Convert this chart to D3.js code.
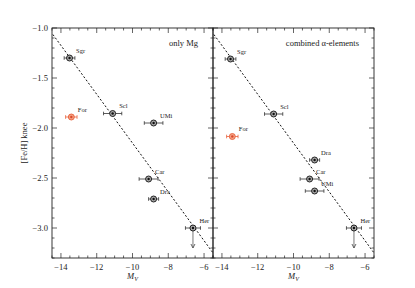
<!DOCTYPE html>
<html>
<head>
<meta charset="utf-8">
<script src="https://cdn.jsdelivr.net/npm/d3@7"></script>
<style>
  body { margin: 0; background: #fff; }
  text { font-family: "Liberation Serif", "DejaVu Serif", serif; fill: #222; }
</style>
</head>
<body>
<svg id="chart" width="415" height="288"></svg>
<script>
// galaxies and their values
var names = ["Sgr", "For", "Scl", "UMi", "Car", "Dra", "Her"];
var mv = [-13.52, -13.42, -11.11, -8.82, -9.1, -8.82, -6.62];
var mvErr = [0.3, 0.32, 0.51, 0.52, 0.53, 0.28, 0.42];
var kneeMg = [-1.30, -1.89, -1.855, -1.95, -2.51, -2.71, -3.0];
var kneeAlpha = [-1.31, -2.085, -1.86, -2.63, -2.51, -2.32, -3.0];
var upperLimit = [false, false, false, false, false, false, true];
var limitTo = -3.2;
var highlight = ["For"];

// dashed relation
var fitM = [-14.45, -5.5];
var fitK = [-1.065, -3.249];

var xTicks = [-14, -12, -10, -8, -6];
var yTicks = [-1.0, -1.5, -2.0, -2.5, -3.0];

var svg = d3.select("#chart");
var plotTop = 28, plotBottom = 258;
var panels = [
  {x0: 52, x1: 213, knee: kneeMg, title: "only Mg", labels: true},
  {x0: 213, x1: 374, knee: kneeAlpha, title: "combined \u03b1-elements", labels: false}
];

var y = d3.scaleLinear().domain([-3.3, -1.0]).range([plotBottom, plotTop]);

panels.forEach(function(p, pi) {
  var x = d3.scaleLinear().domain([-14.5, -5.5]).range([p.x0, p.x1]);
  var g = svg.append("g");

  var clipId = "clip" + pi;
  svg.append("clipPath").attr("id", clipId)
    .append("rect").attr("x", p.x0).attr("y", plotTop)
    .attr("width", p.x1 - p.x0).attr("height", plotBottom - plotTop);

  // ticks on all four sides
  var minorX = d3.range(-14.5, -5.4, 0.5);
  var minorY = d3.range(-3.3, -0.95, 0.1).map(function(v) { return Math.round(v * 10) / 10; });
  var isMajorX = function(v) { return Math.abs(v / 2 - Math.round(v / 2)) < 1e-6; };
  var isMajorY = function(v) { return Math.abs(v * 2 - Math.round(v * 2)) < 1e-6; };

  minorX.forEach(function(v) {
    var len = isMajorX(v) ? 5 : 2.5;
    g.append("line").attr("x1", x(v)).attr("x2", x(v)).attr("y1", plotBottom).attr("y2", plotBottom - len)
      .attr("stroke", "#222").attr("stroke-width", 0.7);
    g.append("line").attr("x1", x(v)).attr("x2", x(v)).attr("y1", plotTop).attr("y2", plotTop + len)
      .attr("stroke", "#222").attr("stroke-width", 0.7);
  });
  minorY.forEach(function(v) {
    var len = isMajorY(v) ? 5 : 2.5;
    g.append("line").attr("x1", p.x0).attr("x2", p.x0 + len).attr("y1", y(v)).attr("y2", y(v))
      .attr("stroke", "#222").attr("stroke-width", 0.7);
    g.append("line").attr("x1", p.x1).attr("x2", p.x1 - len).attr("y1", y(v)).attr("y2", y(v))
      .attr("stroke", "#222").attr("stroke-width", 0.7);
  });

  g.append("rect").attr("x", p.x0).attr("y", plotTop)
    .attr("width", p.x1 - p.x0).attr("height", plotBottom - plotTop)
    .attr("fill", "none").attr("stroke", "#222").attr("stroke-width", 0.9);

  // tick labels
  xTicks.forEach(function(v) {
    g.append("text").attr("x", x(v)).attr("y", 270).attr("text-anchor", "middle")
      .attr("font-size", 8.5).text("\u2212" + Math.abs(v));
  });
  if (p.labels) {
    yTicks.forEach(function(v) {
      g.append("text").attr("x", 48).attr("y", y(v) + 3).attr("text-anchor", "end")
        .attr("font-size", 8.5).text("\u2212" + Math.abs(v).toFixed(1));
    });
  }

  // axis title
  var xl = g.append("text").attr("x", (p.x0 + p.x1) / 2).attr("y", 279)
    .attr("text-anchor", "middle").attr("font-size", 8.5).attr("font-style", "italic");
  xl.append("tspan").text("M");
  xl.append("tspan").attr("font-size", 6).attr("dy", 2).text("V");

  g.append("text").attr("x", p.x1 - 15).attr("y", 46).attr("text-anchor", "end")
    .attr("font-size", 8.5).text(p.title);

  // dashed relation
  g.append("line").attr("clip-path", "url(#" + clipId + ")")
    .attr("x1", x(fitM[0])).attr("y1", y(fitK[0]))
    .attr("x2", x(fitM[1])).attr("y2", y(fitK[1]))
    .attr("stroke", "#111").attr("stroke-width", 1).attr("stroke-dasharray", "2,2");

  // points
  names.forEach(function(n, i) {
    var hot = highlight.indexOf(n) >= 0;
    var col = hot ? "#e8603a" : "#333";
    var px = x(mv[i]), py = y(p.knee[i]);
    var xa = x(mv[i] - mvErr[i]), xb = x(mv[i] + mvErr[i]);
    g.append("line").attr("x1", xa).attr("x2", xb).attr("y1", py).attr("y2", py)
      .attr("stroke", col).attr("stroke-width", 0.8);
    [xa, xb].forEach(function(c) {
      g.append("line").attr("x1", c).attr("x2", c).attr("y1", py - 1.8).attr("y2", py + 1.8)
        .attr("stroke", col).attr("stroke-width", 0.8);
    });
    if (upperLimit[i]) {
      var ye = y(limitTo);
      g.append("line").attr("x1", px).attr("x2", px).attr("y1", py).attr("y2", ye)
        .attr("stroke", "#777").attr("stroke-width", 1);
      g.append("path")
        .attr("d", "M" + (px - 2) + "," + (ye - 4) + "L" + px + "," + ye + "L" + (px + 2) + "," + (ye - 4))
        .attr("fill", "none").attr("stroke", "#555").attr("stroke-width", 0.9);
    }
    g.append("circle").attr("cx", px).attr("cy", py).attr("r", 3)
      .attr("fill", hot ? "#f2a184" : "#aaa").attr("stroke", hot ? "#e8603a" : "#111").attr("stroke-width", 0.9);
    g.append("circle").attr("cx", px).attr("cy", py).attr("r", 1.2)
      .attr("fill", hot ? "#d9482a" : "#111");
    g.append("text").attr("x", px + 6.5).attr("y", py - 5.5)
      .attr("font-size", 6.5).text(n);
  });
});

// y title
svg.append("text").attr("transform", "translate(27," + ((plotTop + plotBottom) / 2) + ") rotate(-90)")
  .attr("text-anchor", "middle").attr("font-size", 8.5).text("[Fe/H] knee");
</script>
</body>
</html>
